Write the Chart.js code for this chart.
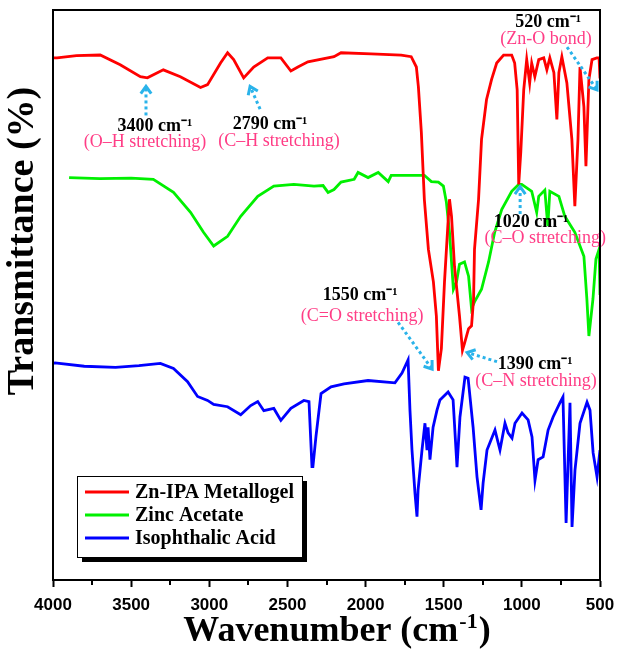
<!DOCTYPE html>
<html><head><meta charset="utf-8">
<script src="https://cdn.jsdelivr.net/npm/chart.js@4.4.1/dist/chart.umd.min.js"></script>
<style>html,body{margin:0;padding:0;background:#fff}#wrap{width:617px;height:649px}</style>
</head><body><div id="wrap"><canvas id="c" width="617" height="649"></canvas></div>
<script>
// ---- Data (wavenumber in cm-1, transmittance in arbitrary offset units) ----
const seriesNames = ['Zn-IPA Metallogel', 'Zinc Acetate', 'Isophthalic Acid'];

const metallogelWavenumbers = [4000,3974,3850,3698,3570,3441,3396,3294,3185,3056,3011,2928,2883,2844,2780,2716,2626,2542,2478,2433,2369,2202,2157,1964,1772,1708,1675,1662,1643,1624,1598,1566,1547,1534,1515,1495,1470,1463,1450,1431,1399,1380,1367,1341,1322,1309,1303,1277,1258,1226,1194,1161,1117,1065,1046,1030,1020,1007,988,969,950,937,917,892,860,840,821,795,776,763,744,712,680,661,641,628,603,590,571,551,520,506,500];
const metallogelValues = [91.6,91.6,92.0,92.1,90.4,88.3,88.1,89.5,88.3,86.4,86.9,90.7,92.5,91.3,88.1,90.0,91.6,91.6,89.3,90.0,90.9,91.8,92.5,92.3,92.1,91.8,90.0,86.5,78.5,66.8,58.0,52.3,46.3,36.7,40.6,52.3,63.8,66.8,63.8,55.0,46.3,40.3,41.5,44.1,44.6,49.3,58.0,66.8,77.3,84.3,87.8,90.7,92.1,92.1,90.7,86.0,69.4,75.0,86.0,91.3,87.2,90.7,88.3,91.3,91.6,89.5,91.6,89.0,80.8,89.0,91.8,87.2,77.3,65.6,77.3,90.0,83.0,72.6,87.8,91.3,91.6,91.6,88.0];

const acetateWavenumbers = [3897,3700,3500,3358,3229,3120,3037,2972,2883,2799,2690,2587,2459,2330,2272,2240,2202,2157,2073,2048,1984,1919,1855,1836,1772,1624,1579,1534,1502,1483,1463,1438,1418,1399,1367,1341,1322,1303,1258,1213,1174,1129,1065,1020,1001,937,905,892,853,834,821,763,725,661,603,584,571,545,526,506,500];
const acetateValues = [70.6,70.4,70.5,70.3,68.0,64.5,61.0,58.6,60.3,63.8,67.3,69.1,69.4,69.1,69.2,68.0,68.5,69.8,70.3,71.5,70.6,71.5,69.9,71.0,71.0,71.0,69.9,69.8,69.1,66.3,61.0,51.0,52.3,55.4,55.8,53.3,47.6,48.8,51.0,55.8,61.0,65.0,68.2,69.4,69.4,68.2,64.5,67.3,68.4,62.1,68.2,67.3,63.8,61.0,56.8,49.3,42.8,49.3,56.3,58.0,50.0];

const acidWavenumbers = [4000,3987,3800,3600,3450,3313,3229,3139,3075,3011,2972,2883,2799,2735,2690,2651,2587,2542,2478,2395,2362,2343,2337,2317,2285,2221,2138,1984,1812,1767,1728,1716,1703,1684,1671,1664,1639,1620,1607,1600,1588,1568,1543,1524,1472,1440,1415,1396,1364,1344,1312,1287,1261,1248,1223,1172,1140,1108,1088,1063,1044,999,960,935,916,896,864,832,800,756,737,717,692,679,660,628,583,564,544,519,500];
const acidValues = [38.0,38.1,37.5,37.3,37.6,38.0,37.1,34.8,32.2,31.5,30.8,30.4,29.0,30.6,31.3,29.7,30.1,28.0,30.1,31.5,31.3,19.9,19.9,25.3,32.7,33.9,34.4,35.0,34.6,36.3,38.6,29.8,22.8,15.3,11.1,15.8,22.8,27.5,22.8,26.8,21.1,26.8,29.8,31.6,33.0,31.6,19.8,28.6,35.6,35.4,26.8,18.1,12.3,17.0,22.8,26.3,22.8,27.5,25.8,24.9,27.5,29.3,28.1,25.1,17.5,21.1,21.6,26.3,28.6,31.1,32.1,10.0,31.1,9.3,19.3,27.5,31.2,29.8,22.3,18.1,22.8];

const majorTickValues = [4000,3500,3000,2500,2000,1500,1000,500];
const minorTickValues = [3750,3250,2750,2250,1750,1250,750];

const peakLabels = ['3400 cm\u207B\u00B9','2790 cm\u207B\u00B9','520 cm\u207B\u00B9','1020 cm\u207B\u00B9','1550 cm\u207B\u00B9','1390 cm\u207B\u00B9'];
const peakNotes = ['(O\u2013H stretching)','(C\u2013H stretching)','(Zn-O bond)','(C\u2013O stretching)','(C=O stretching)','(C\u2013N stretching)'];

// ---- Styles / placement ----
const COLORS = ['#ff0000', '#00f000', '#0000ff'];
const ARROW = '#2ab3ea';
const PINK = '#ff3d86';
const SERIF = '"Liberation Serif","Times New Roman",serif';

// annotation placements in data space: label(w,v), note(w,v), arrow tail(w,v), head(w,v)
const annotationPlacement = [
  {label:[3347,79.6], note:[3411,76.8], tail:[3405,81.5], head:[3405,86.6]},
  {label:[2611,79.9], note:[2554,76.9], tail:[2675,82.6], head:[2739,86.6]},
  {label:[832,97.9],  note:[845,94.8],  tail:[711,93.5],  head:[519,86.0]},
  {label:[941,62.8],  note:[851,59.9],  tail:[1011,64.2], head:[1011,69.0]},
  {label:[2035,50.0], note:[2022,46.2], tail:[1792,45.2], head:[1574,37.0]},
  {label:[915,37.9],  note:[909,34.9],  tail:[1159,38.3], head:[1350,39.9]}
];

const zip = (xs, ys) => xs.map((w, i) => ({x: w, y: ys[i]}));

function drawArrow(ctx, x1, y1, x2, y2) {
  ctx.save();
  ctx.strokeStyle = ARROW; ctx.lineWidth = 3;
  const ang = Math.atan2(y2 - y1, x2 - x1);
  ctx.setLineDash([3, 3]);
  ctx.beginPath(); ctx.moveTo(x1, y1); ctx.lineTo(x2 - 2*Math.cos(ang), y2 - 2*Math.sin(ang)); ctx.stroke();
  ctx.setLineDash([]);
  const L = 9, sp = 0.62;
  ctx.lineJoin = 'miter';
  ctx.beginPath();
  ctx.moveTo(x2 - L*Math.cos(ang - sp), y2 - L*Math.sin(ang - sp));
  ctx.lineTo(x2, y2);
  ctx.lineTo(x2 - L*Math.cos(ang + sp), y2 - L*Math.sin(ang + sp));
  ctx.stroke();
  ctx.restore();
}

const decor = {
  id: 'decor',
  afterDatasetsDraw(chart) {
    const {ctx, scales: {x, y}} = chart;
    ctx.save();
    annotationPlacement.forEach((p, i) => {
      drawArrow(ctx, x.getPixelForValue(p.tail[0]), y.getPixelForValue(p.tail[1]),
                     x.getPixelForValue(p.head[0]), y.getPixelForValue(p.head[1]));
    });
    ctx.textAlign = 'center'; ctx.textBaseline = 'middle';
    annotationPlacement.forEach((p, i) => {
      ctx.fillStyle = '#000'; ctx.font = 'bold 18px ' + SERIF;
      ctx.fillText(peakLabels[i], x.getPixelForValue(p.label[0]), y.getPixelForValue(p.label[1]));
      ctx.fillStyle = PINK; ctx.font = '18px ' + SERIF;
      ctx.fillText(peakNotes[i], x.getPixelForValue(p.note[0]), y.getPixelForValue(p.note[1]));
    });
    ctx.restore();
  },
  afterDraw(chart) {
    const {ctx, chartArea: a, scales: {x}} = chart;
    ctx.save();
    // frame
    ctx.strokeStyle = '#000'; ctx.lineWidth = 2;
    ctx.strokeRect(a.left, a.top, a.right - a.left, a.bottom - a.top);
    // minor ticks
    minorTickValues.forEach(t => {
      const px = Math.round(x.getPixelForValue(t));
      ctx.beginPath(); ctx.moveTo(px, a.bottom); ctx.lineTo(px, a.bottom + 5); ctx.stroke();
    });
    // legend
    const lx = 77, ly = 476, lw = 225, lh = 81;
    ctx.fillStyle = '#000'; ctx.fillRect(lx + 5, ly + 5, lw, lh);
    ctx.fillStyle = '#fff'; ctx.fillRect(lx, ly, lw, lh);
    ctx.lineWidth = 1; ctx.strokeStyle = '#000'; ctx.strokeRect(lx + 0.5, ly + 0.5, lw, lh);
    const rows = [492, 515, 538];
    ctx.textAlign = 'left'; ctx.textBaseline = 'middle';
    ctx.font = 'bold 20px ' + SERIF;
    seriesNames.forEach((n, i) => {
      ctx.strokeStyle = COLORS[i]; ctx.lineWidth = 3;
      ctx.beginPath(); ctx.moveTo(85, rows[i]); ctx.lineTo(129, rows[i]); ctx.stroke();
      ctx.fillStyle = '#000'; ctx.fillText(n, 135, rows[i] + 1);
    });
    // y title
    ctx.save();
    ctx.translate(23, 241); ctx.rotate(-Math.PI / 2);
    ctx.textAlign = 'center'; ctx.textBaseline = 'middle';
    ctx.font = 'bold 38px ' + SERIF; ctx.fillStyle = '#000';
    ctx.fillText('Transmittance (%)', 0, 0);
    ctx.restore();
    // x title with superscript
    const big = 'bold 36px ' + SERIF, supFont = 'bold 22px ' + SERIF;
    ctx.font = big; ctx.fillStyle = '#000'; ctx.textBaseline = 'alphabetic';
    const p1 = 'Wavenumber (cm', p3 = ')', sup = '-1';
    const w1 = ctx.measureText(p1).width, w3 = ctx.measureText(p3).width;
    ctx.font = supFont; const w2 = ctx.measureText(sup).width;
    let sx = 336 - (w1 + w2 + w3) / 2, base = 641;
    ctx.font = big; ctx.fillText(p1, sx, base);
    ctx.font = supFont; ctx.fillText(sup, sx + w1 + 1, base - 13);
    ctx.font = big; ctx.fillText(p3, sx + w1 + w2 + 2, base);
    ctx.restore();
  }
};

new Chart(document.getElementById('c'), {
  type: 'line',
  data: {
    datasets: [
      {label: seriesNames[0], data: zip(metallogelWavenumbers, metallogelValues)},
      {label: seriesNames[1], data: zip(acetateWavenumbers, acetateValues)},
      {label: seriesNames[2], data: zip(acidWavenumbers, acidValues)}
    ].map((d, i) => Object.assign(d, {borderColor: COLORS[i], borderWidth: 2.8, pointRadius: 0, tension: 0, fill: false, borderJoinStyle: 'miter'}))
  },
  options: {
    responsive: false, animation: false,
    layout: {autoPadding: false, padding: {left: 53, right: 17, top: 10, bottom: 0}},
    plugins: {legend: {display: false}, tooltip: {enabled: false}},
    scales: {
      x: {
        type: 'linear', reverse: true, min: 500, max: 4000,
        afterFit(s) { s.height = 69; s.paddingLeft = 0; s.paddingRight = 0; },
        afterBuildTicks(s) { s.ticks = majorTickValues.map(v => ({value: v})); },
        grid: {drawOnChartArea: false, drawTicks: true, tickLength: 7, tickWidth: 2, tickColor: '#000'},
        border: {display: true, color: '#000', width: 2},
        ticks: {autoSkip: false, maxRotation: 0, padding: 8, color: '#000',
                font: {family: '"Liberation Sans", Arial, sans-serif', weight: 'bold', size: 17},
                callback: v => String(v)}
      },
      y: {display: false, min: 0, max: 100}
    }
  },
  plugins: [decor]
});
</script>
</body></html>
